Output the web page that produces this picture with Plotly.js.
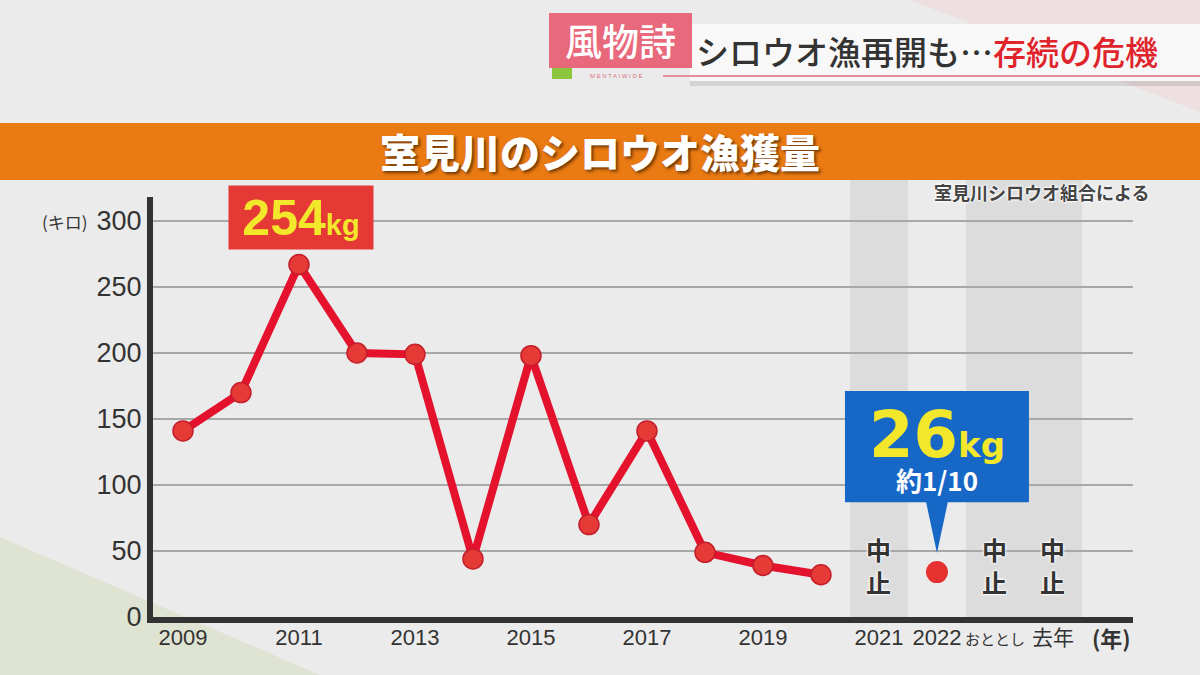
<!DOCTYPE html>
<html>
<head>
<meta charset="utf-8">
<script src="https://cdn.plot.ly/plotly-3.0.1.min.js"></script>
<style>
html, body { margin: 0; padding: 0; background: #ebebeb; }
#chart { width: 1200px; height: 675px; }
</style>
</head>
<body>
<div id="chart"></div>
<script>
// catch per season (kg), as drawn on the chart
var years = [2009, 2010, 2011, 2012, 2013, 2014, 2015, 2016, 2017, 2018, 2019, 2020];
var catchKg = [141, 170, 267, 200, 199, 44, 198, 70, 141, 49, 39, 32];
var year2022 = [2022];
var catch2022 = [34];
var stopYears = [2021, 2023, 2024];   // seasons called off
var tickYears = [2009, 2011, 2013, 2015, 2017, 2019, 2021, 2022, 2023, 2024];
var tickLabels = ['2009', '2011', '2013', '2015', '2017', '2019', '2021', '2022', 'おととし', '去年'];
var yTicks = [0, 50, 100, 150, 200, 250, 300];

// pixel frame of the plot area, used to place the decorations
var L = 153, R = 1133, T = 197, B = 617;
function px(x) { return (x - L) / (R - L); }
function py(y) { return (B - y) / (B - T); }

var jp = '"Noto Sans CJK JP", sans-serif';
var sans = '"Liberation Sans", Arial, "Noto Sans CJK JP", sans-serif';
var halo = '0 0 3px #fff, 0 0 3px #fff, 0 0 2px #fff';

// the kana labels are squeezed in the original, so shrink them to fit
var tickText = tickLabels.map(function (t) {
  if (/^\d/.test(t)) return t;
  var size = t.length > 2 ? 15 : 21;
  return '<span style="font-size:' + size + 'px">' + t + '</span>';
});

var line = {
  x: years, y: catchKg,
  mode: 'lines+markers',
  line: { color: '#e5122e', width: 8 },
  marker: { size: 20, color: '#e63a37', line: { color: '#c41e2a', width: 1.5 } },
  hoverinfo: 'skip'
};
var last = {
  x: year2022, y: catch2022,
  mode: 'markers',
  marker: { size: 22, color: '#e63131' },
  hoverinfo: 'skip'
};

var bx = year2022[0];
var shapes = [
  // background triangles
  { type: 'path', xref: 'paper', yref: 'paper', layer: 'below',
    path: 'M' + px(910) + ',' + py(0) + ' L' + px(1200) + ',' + py(0) + ' L' + px(1200) + ',' + py(112) + ' Z',
    fillcolor: '#eedfe1', line: { width: 0 } },
  { type: 'path', xref: 'paper', yref: 'paper', layer: 'below',
    path: 'M' + px(0) + ',' + py(537) + ' L' + px(320) + ',' + py(675) + ' L' + px(0) + ',' + py(675) + ' Z',
    fillcolor: '#dfe3d2', line: { width: 0 } },
  // orange title band
  { type: 'rect', xref: 'paper', yref: 'paper', x0: px(0), x1: px(1200), y0: py(180), y1: py(123),
    fillcolor: '#ea7a12', line: { width: 0 } },
  // header banner
  { type: 'rect', xref: 'paper', yref: 'paper', x0: px(690), x1: px(1200), y0: py(86), y1: py(78),
    fillcolor: 'rgba(0,0,0,0.10)', line: { width: 0 } },
  { type: 'rect', xref: 'paper', yref: 'paper', x0: px(690), x1: px(1200), y0: py(81), y1: py(24),
    fillcolor: '#f8f8f8', line: { width: 0 } },
  { type: 'line', xref: 'paper', yref: 'paper', x0: px(663), x1: px(1200), y0: py(76), y1: py(76),
    line: { color: '#e68c9a', width: 2 } },
  { type: 'rect', xref: 'paper', yref: 'paper', x0: px(552), x1: px(572), y0: py(79), y1: py(62),
    fillcolor: '#8cc63f', line: { width: 0 } },
  { type: 'rect', xref: 'paper', yref: 'paper', x0: px(549), x1: px(692), y0: py(68), y1: py(13),
    fillcolor: '#e8687c', line: { width: 0 } },
  // grey columns for the off seasons
  { type: 'rect', xref: 'x', yref: 'paper', layer: 'below', x0: 2020.5, x1: 2021.5, y0: 0, y1: py(180),
    fillcolor: 'rgba(170,170,170,0.22)', line: { width: 0 } },
  { type: 'rect', xref: 'x', yref: 'paper', layer: 'below', x0: 2022.5, x1: 2024.5, y0: 0, y1: py(180),
    fillcolor: 'rgba(170,170,170,0.22)', line: { width: 0 } },
  // blue callout for 2022
  { type: 'rect', xref: 'x', yref: 'y', x0: bx - 1.586, x1: bx + 1.586, y0: 87, y1: 171.2,
    fillcolor: '#1768c6', line: { width: 0 } },
  { type: 'path', xref: 'x', yref: 'y',
    path: 'M' + (bx - 0.19) + ',87.5 L' + (bx + 0.19) + ',87.5 L' + bx + ',48.5 Z',
    fillcolor: '#1768c6', line: { width: 0 } }
];

var annotations = [
  { xref: 'paper', yref: 'paper', x: px(620), y: py(40), text: '風物詩',
    font: { family: jp, size: 37, color: '#ffffff', weight: 500 } },
  { xref: 'paper', yref: 'paper', x: px(616), y: py(76), text: 'M E N T A I W I D E',
    font: { family: sans, size: 6, color: '#d9707f' } },
  { xref: 'paper', yref: 'paper', x: px(694), y: py(51), xanchor: 'left',
    text: 'シロウオ漁再開も…<span style="color:#e0242c">存続の危機</span>',
    font: { family: jp, size: 33, color: '#333333', weight: 500 } },
  { xref: 'paper', yref: 'paper', x: px(600), y: py(151), text: '室見川のシロウオ漁獲量',
    font: { family: jp, size: 40, color: '#ffffff', weight: 900, shadow: '2px 2px 3px rgba(60,30,0,0.7)' } },
  { xref: 'paper', yref: 'paper', x: px(1041), y: py(192), text: '室見川シロウオ組合による',
    font: { family: jp, size: 18, color: '#444444', weight: 700, shadow: halo } },
  { xref: 'paper', yref: 'paper', x: px(65), y: py(221), text: '(キロ)',
    font: { family: jp, size: 17, color: '#333333' } },
  { xref: 'paper', yref: 'paper', x: px(1111), y: py(637), text: '(年)',
    font: { family: jp, size: 22, color: '#333333', weight: 700 } },
  { xref: 'paper', yref: 'paper', x: px(301), y: py(217.5),
    text: '254<span style="font-size:29px">kg</span>',
    bgcolor: '#e53935', width: 136, height: 55, borderpad: 4,
    font: { family: sans, size: 50, color: '#f3e72c', weight: 700 } },
  { xref: 'x', yref: 'paper', x: bx, y: py(448),
    text: '<span style="font-family:DejaVu Sans;color:#f3e72c;font-size:64px">26</span>' +
          '<span style="font-family:DejaVu Sans;color:#f3e72c;font-size:34px">kg</span><br>約1/10',
    font: { family: jp, size: 26, color: '#ffffff', weight: 700 } }
];

stopYears.forEach(function (yr) {
  annotations.push({ xref: 'x', yref: 'paper', x: yr, y: py(565), text: '中<br>止',
    font: { family: jp, size: 25, color: '#333333', weight: 700, shadow: halo } });
});

annotations.forEach(function (a) {
  a.showarrow = false;
  a.xanchor = a.xanchor || 'center';
  a.yanchor = 'middle';
});

var layout = {
  width: 1200, height: 675,
  margin: { l: L, r: 1200 - R, t: T, b: 675 - B },
  paper_bgcolor: '#ebebeb',
  plot_bgcolor: 'rgba(0,0,0,0)',
  showlegend: false,
  xaxis: {
    range: [2008.483, 2025.38],
    tickvals: tickYears, ticktext: tickText,
    tickangle: 0,
    showgrid: false, zeroline: false,
    showline: true, linewidth: 6, linecolor: '#333333',
    ticks: '', ticklabelstandoff: -4,
    tickfont: { family: sans, size: 22, color: '#333333' }
  },
  yaxis: {
    range: [0, 318.2],
    tickvals: yTicks,
    showgrid: true, gridcolor: '#a8a8a8', gridwidth: 1.5,
    zeroline: false,
    showline: true, linewidth: 6, linecolor: '#333333',
    ticks: '', ticklabelstandoff: 0,
    tickfont: { family: sans, size: 27, color: '#333333' }
  },
  shapes: shapes,
  annotations: annotations
};

Plotly.newPlot('chart', [line, last], layout, { displayModeBar: false, staticPlot: true });
</script>
</body>
</html>
